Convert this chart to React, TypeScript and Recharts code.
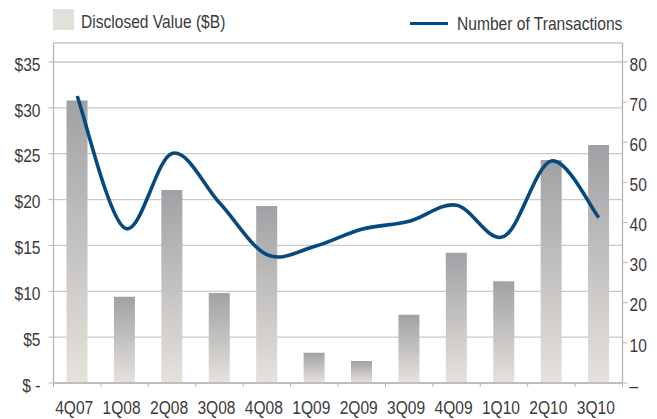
import React from "react";
import { ComposedChart, Bar, Line, XAxis, YAxis, CartesianGrid } from "recharts";

const quarters = ["4Q07", "1Q08", "2Q08", "3Q08", "4Q08", "1Q09", "2Q09", "3Q09", "4Q09", "1Q10", "2Q10", "3Q10"];
const disclosedValue = [30.8, 9.4, 21.05, 9.8, 19.3, 3.3, 2.4, 7.45, 14.2, 11.1, 24.3, 25.95];
const transactions = [71.5, 38.6, 57.2, 44.9, 32, 34, 38.3, 40.3, 44.3, 36.5, 55.3, 41.2];
const leftTicks = [0, 5, 10, 15, 20, 25, 30, 35];
const rightTicks = [0, 10, 20, 30, 40, 50, 60, 70, 80];

const data = quarters.map((q, i) => ({ q, value: disclosedValue[i], count: transactions[i] }));

const FONT = "'Liberation Sans', Arial, sans-serif";
const FS = 19;
const SX = 0.82;
const TEXT = "#3a3a3a";
const AXIS = "#b5b5b5";

// Excel-style smoothed line (uniform Catmull-Rom / Bezier with 1/6 tangents)
function excelSmooth(context: any) {
  let pts: [number, number][] = [];
  return {
    areaStart() {},
    areaEnd() {},
    lineStart() {
      pts = [];
    },
    lineEnd() {
      const n = pts.length;
      if (!n) return;
      context.moveTo(pts[0][0], pts[0][1]);
      for (let i = 0; i < n - 1; i++) {
        const p0 = pts[Math.max(i - 1, 0)];
        const p1 = pts[i];
        const p2 = pts[i + 1];
        const p3 = pts[Math.min(i + 2, n - 1)];
        context.bezierCurveTo(
          p1[0] + (p2[0] - p0[0]) / 6,
          p1[1] + (p2[1] - p0[1]) / 6,
          p2[0] - (p3[0] - p1[0]) / 6,
          p2[1] - (p3[1] - p1[1]) / 6,
          p2[0],
          p2[1]
        );
      }
    },
    point(x: number, y: number) {
      pts.push([+x, +y]);
    },
  };
}

const TICK_SIZE = 4;
const TICK_MARGIN = 14;

const NarrowText = ({ x, y, anchor, dy, children }: any) => (
  <text
    transform={`translate(${x},${y}) scale(${SX},1)`}
    x={0}
    y={0}
    dy={dy}
    textAnchor={anchor}
    fill={TEXT}
    fontSize={FS}
    fontFamily={FONT}
  >
    {children}
  </text>
);

const XTick = (props: any) => {
  const { x, y, payload, index, visibleTicksCount } = props;
  const off = payload.offset || 0;
  const axisY = y - TICK_MARGIN - TICK_SIZE;
  const isLast = index === (visibleTicksCount ?? quarters.length) - 1;
  return (
    <g>
      <line x1={x - off} x2={x - off} y1={axisY} y2={axisY + TICK_SIZE} stroke={AXIS} strokeWidth={1} />
      {isLast && <line x1={x + off} x2={x + off} y1={axisY} y2={axisY + TICK_SIZE} stroke={AXIS} strokeWidth={1} />}
      <NarrowText x={x - 3} y={y} dy="0.71em" anchor="middle">
        {payload.value}
      </NarrowText>
    </g>
  );
};

const LeftTick = (props: any) => {
  const { x, y, payload } = props;
  return (
    <NarrowText x={x} y={y + 2} dy="0.355em" anchor="end">
      {payload.value === 0 ? "$ -" : `$${payload.value}`}
    </NarrowText>
  );
};

const RightTick = (props: any) => {
  const { x, y, payload } = props;
  return (
    <NarrowText x={x} y={y + 2} dy="0.355em" anchor="start">
      {payload.value === 0 ? "–" : `${payload.value}`}
    </NarrowText>
  );
};

const legendText: React.CSSProperties = {
  position: "absolute",
  lineHeight: "24px",
  whiteSpace: "nowrap",
  transform: `scaleX(${SX})`,
  transformOrigin: "left center",
};

export default function App() {
  return (
    <div style={{ position: "absolute", left: 0, top: 0, width: 657, height: 419, background: "#fff" }}>
      <div style={{ position: "absolute", left: 0, top: 0, width: 657, height: 40, fontFamily: FONT, fontSize: FS, color: TEXT }}>
        <div style={{ position: "absolute", left: 53, top: 9, width: 21, height: 21, background: "#e3dfd9" }} />
        <div style={{ ...legendText, left: 81, top: 10 }}>Disclosed Value ($B)</div>
        <div style={{ position: "absolute", left: 410, top: 21.5, width: 38, height: 3.5, background: "#06497e" }} />
        <div style={{ ...legendText, left: 457, top: 12 }}>Number of Transactions</div>
      </div>
      <ComposedChart
        width={657}
        height={419}
        data={data}
        margin={{ top: 43, right: 0, bottom: 0, left: 0 }}
        barSize={21}
      >
        <defs>
          <linearGradient id="barGrad" x1="0" y1="0" x2="0" y2="1">
            <stop offset="0%" stopColor="#a1a1a5" />
            <stop offset="100%" stopColor="#e6e2dc" />
          </linearGradient>
        </defs>
        <CartesianGrid yAxisId="left" vertical={false} stroke="#c9c9c9" strokeWidth={1.3} />
        <XAxis
          dataKey="q"
          height={36}
          axisLine={{ stroke: AXIS, strokeWidth: 1.3 }}
          tickLine={false}
          tickSize={TICK_SIZE}
          tickMargin={TICK_MARGIN}
          interval={0}
          tick={<XTick />}
        />
        <YAxis
          yAxisId="left"
          orientation="left"
          width={53.5}
          domain={[0, 37.07]}
          ticks={leftTicks}
          interval={0}
          axisLine={{ stroke: AXIS, strokeWidth: 1.3 }}
          tickLine={{ stroke: AXIS }}
          tickSize={5}
          tickMargin={8}
          tick={<LeftTick />}
        />
        <YAxis
          yAxisId="right"
          orientation="right"
          width={34.5}
          domain={[0, 84.7]}
          ticks={rightTicks}
          interval={0}
          axisLine={{ stroke: AXIS, strokeWidth: 1.3 }}
          tickLine={{ stroke: AXIS }}
          tickSize={5}
          tickMargin={2}
          tick={<RightTick />}
        />
        <Bar yAxisId="left" dataKey="value" fill="url(#barGrad)" isAnimationActive={false} />
        <Line
          yAxisId="right"
          dataKey="count"
          type={excelSmooth as any}
          stroke="#06497e"
          strokeWidth={3.6}
          dot={false}
          activeDot={false}
          isAnimationActive={false}
        />
      </ComposedChart>
    </div>
  );
}
